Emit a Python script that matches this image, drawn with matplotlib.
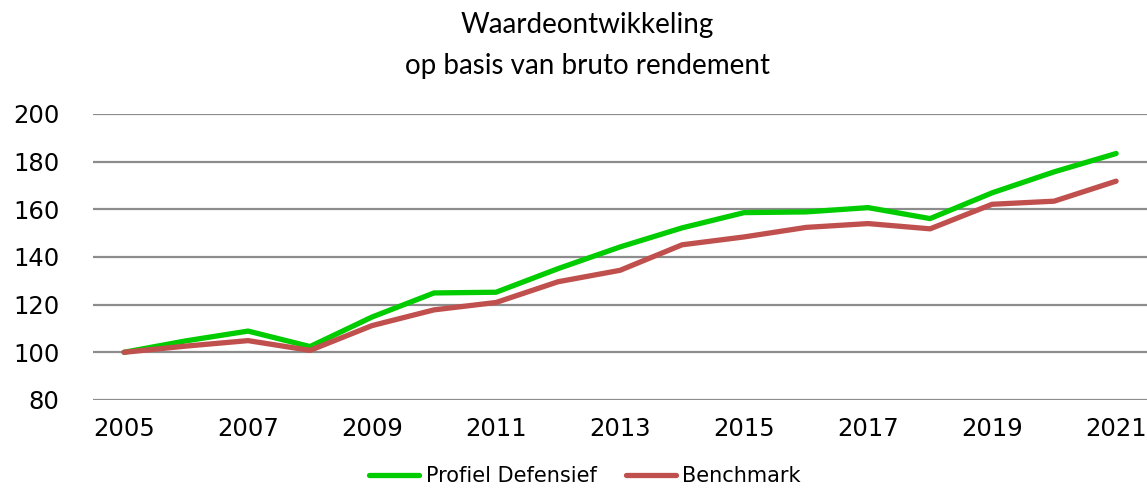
import matplotlib
matplotlib.use("Agg")
import matplotlib.pyplot as plt

plt.rcParams["font.family"] = ["DejaVu Sans"]

# data
years = list(range(2005, 2022))
profiel = [100, 104.8, 108.9, 102.4, 114.8, 124.9, 125.2, 135.1, 144.2, 152.2,
           158.6, 158.9, 160.7, 156.1, 166.9, 175.7, 183.4]
benchmark = [100, 102.6, 104.9, 100.8, 111.2, 117.8, 120.9, 129.6, 134.4, 145.1,
             148.4, 152.4, 154.0, 151.8, 162.1, 163.4, 171.8]
xticks = list(range(2005, 2022, 2))
yticks = list(range(80, 201, 20))

fig = plt.figure(figsize=(11.47, 4.95), dpi=100)
ax = fig.add_axes([0.0811, 0.192, 0.919, 0.5778])

ax.plot(years, profiel, color="#00cc00", lw=3.8, solid_capstyle="round",
        label="Profiel Defensief", zorder=3)
ax.plot(years, benchmark, color="#c0504d", lw=3.8, solid_capstyle="round",
        label="Benchmark", zorder=3)

ax.set_xlim(2004.5, 2021.5)
ax.set_ylim(80, 200)
ax.set_xticks(xticks)
ax.set_yticks(yticks)
ax.grid(axis="y", color="#8c8c8c", lw=1.6)
ax.set_axisbelow(True)
for s in ax.spines.values():
    s.set_visible(False)
ax.tick_params(length=0, labelsize=17.5, colors="black")
ax.tick_params(axis="y", pad=24)
ax.tick_params(axis="x", pad=12)

fig.text(0.512, 0.975, "Waardeontwikkeling\nop basis van bruto rendement",
         ha="center", va="top", fontsize=20, family="Lato", linespacing=1.7)

fig.legend(loc="lower center", bbox_to_anchor=(0.51, -0.02), ncol=2,
           frameon=False, fontsize=15, handlelength=2.4, handletextpad=0.3,
           columnspacing=1.4)

fig.savefig("out.png", dpi=100)
